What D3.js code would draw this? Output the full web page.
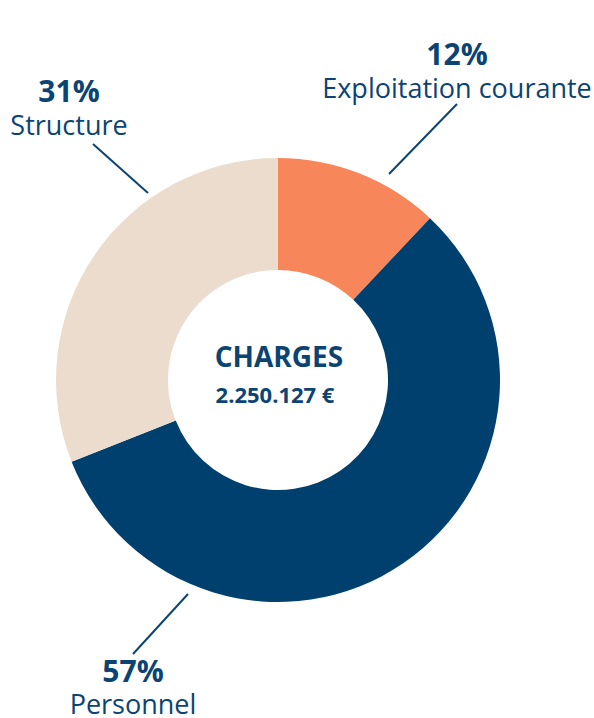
<!DOCTYPE html>
<html>
<head>
<meta charset="utf-8">
<script src="https://cdn.jsdelivr.net/npm/d3@7/dist/d3.min.js"></script>
<style>
  html, body { margin: 0; padding: 0; background: #fff; }
  svg { display: block; font-family: "Open Sans", sans-serif; }
</style>
</head>
<body>
<svg id="chart" width="594" height="718"></svg>
<script>
// Data
const categories = ["Exploitation courante", "Personnel", "Structure"];
const values = [12, 57, 31];
const percentLabels = ["12%", "57%", "31%"];
const colors = ["#f8865b", "#00406f", "#ebdcce"];
const centerTitle = "CHARGES";
const centerValue = "2.250.127 €";

// Layout (annotation positions)
const cx = 278, cy = 380, outerR = 222, innerR = 110;
const textColor = "#0b4473";
const labelLayout = [
  { x: 457, pctY: 65, nameY: 98, line: [[389, 174], [457, 104]] },
  { x: 133, pctY: 682, nameY: 714, line: [[188, 594], [133, 654]] },
  { x: 69, pctY: 102, nameY: 135, line: [[148, 193], [93, 144]] }
];

const svg = d3.select("#chart");
const g = svg.append("g").attr("transform", `translate(${cx},${cy})`);

const pie = d3.pie().sort(null).value(d => d)(values);
const arc = d3.arc().innerRadius(innerR).outerRadius(outerR);

g.selectAll("path.slice")
  .data(pie)
  .enter().append("path")
  .attr("class", "slice")
  .attr("d", arc)
  .attr("fill", (d, i) => colors[i]);

// Center text
svg.append("text")
  .attr("x", cx + 1).attr("y", 367)
  .attr("text-anchor", "middle")
  .attr("font-weight", 700).attr("font-size", 28)
  .attr("fill", textColor)
  .text(centerTitle);
svg.append("text")
  .attr("x", cx - 3).attr("y", 403)
  .attr("text-anchor", "middle")
  .attr("font-weight", 700).attr("font-size", 22)
  .attr("fill", textColor)
  .text(centerValue);

// Labels and leader lines
const line = d3.line();
labelLayout.forEach((L, i) => {
  svg.append("path")
    .attr("d", line(L.line))
    .attr("stroke", textColor)
    .attr("stroke-width", 2)
    .attr("fill", "none");
  svg.append("text")
    .attr("x", L.x).attr("y", L.pctY)
    .attr("text-anchor", "middle")
    .attr("font-weight", 700).attr("font-size", 30)
    .attr("fill", textColor)
    .text(percentLabels[i]);
  svg.append("text")
    .attr("x", L.x).attr("y", L.nameY)
    .attr("text-anchor", "middle")
    .attr("font-weight", 400).attr("font-size", 27)
    .attr("fill", textColor)
    .text(categories[i]);
});
</script>
</body>
</html>
